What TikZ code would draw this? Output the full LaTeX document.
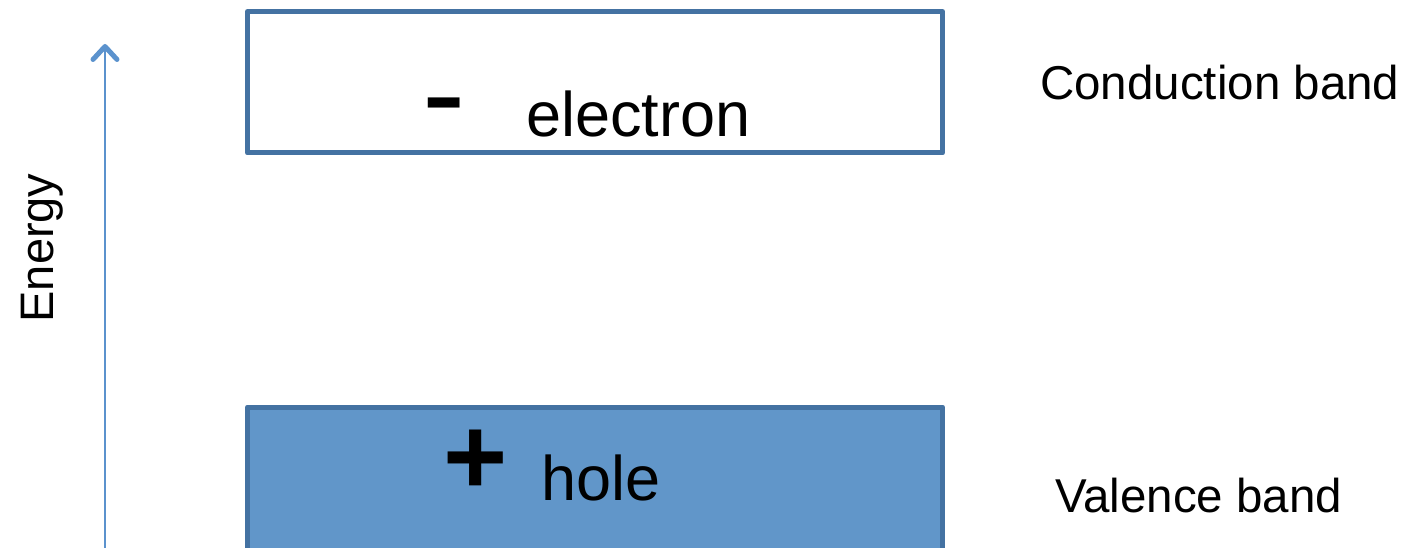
\documentclass[tikz,border=0pt]{standalone}
\usepackage{fontspec}
\setmainfont{Liberation Sans}
\usetikzlibrary{arrows.meta}
\definecolor{bandedge}{RGB}{68,114,162}
\definecolor{bandfill}{RGB}{97,150,201}
\definecolor{arrowblue}{RGB}{91,146,205}
\begin{document}
\begin{tikzpicture}[x=1pt,y=-1pt,
  band/.style={draw=bandedge,line width=5pt,line join=round},
  label/.style={inner sep=0pt,anchor=base west,font=\fontsize{47.5}{50}\selectfont},
  carrier/.style={inner sep=0pt,anchor=base west,font=\fontsize{63}{66}\selectfont},
  sign/.style={inner sep=0pt,font=\fontsize{110}{110}\selectfont\bfseries},
  minussign/.style={inner sep=0pt,font=\fontsize{130}{130}\selectfont}]
\useasboundingbox (0,0) rectangle (1406,548);
% bands
\draw[band,fill=white] (247.5,11.5) rectangle (942.5,153);
\draw[band,fill=bandfill] (247.5,407) rectangle (942.5,580);
% energy axis
\coordinate (abot) at (105,560);
\coordinate (atop) at (105,44);
\draw[arrowblue,line width=2.5pt,-{Straight Barb[round,length=13pt,width=24pt,line width=5pt]}] (abot) -- (atop);
\node[inner sep=0pt,anchor=base,rotate=90,font=\fontsize{47}{50}\selectfont] (energy) at (53,248) {Energy};
% texts
\node[carrier] (electron) at (526,137) {electron};
\node[carrier] (hole) at (541,500) {hole};
\node[minussign] (minus) at (444,118) {-};
\node[sign] (plus) at (475.5,462) {+};
\node[label] (cb) at (1040,100) {Conduction band};
\node[label] (vb) at (1055,512) {Valence band};
\end{tikzpicture}
\end{document}
